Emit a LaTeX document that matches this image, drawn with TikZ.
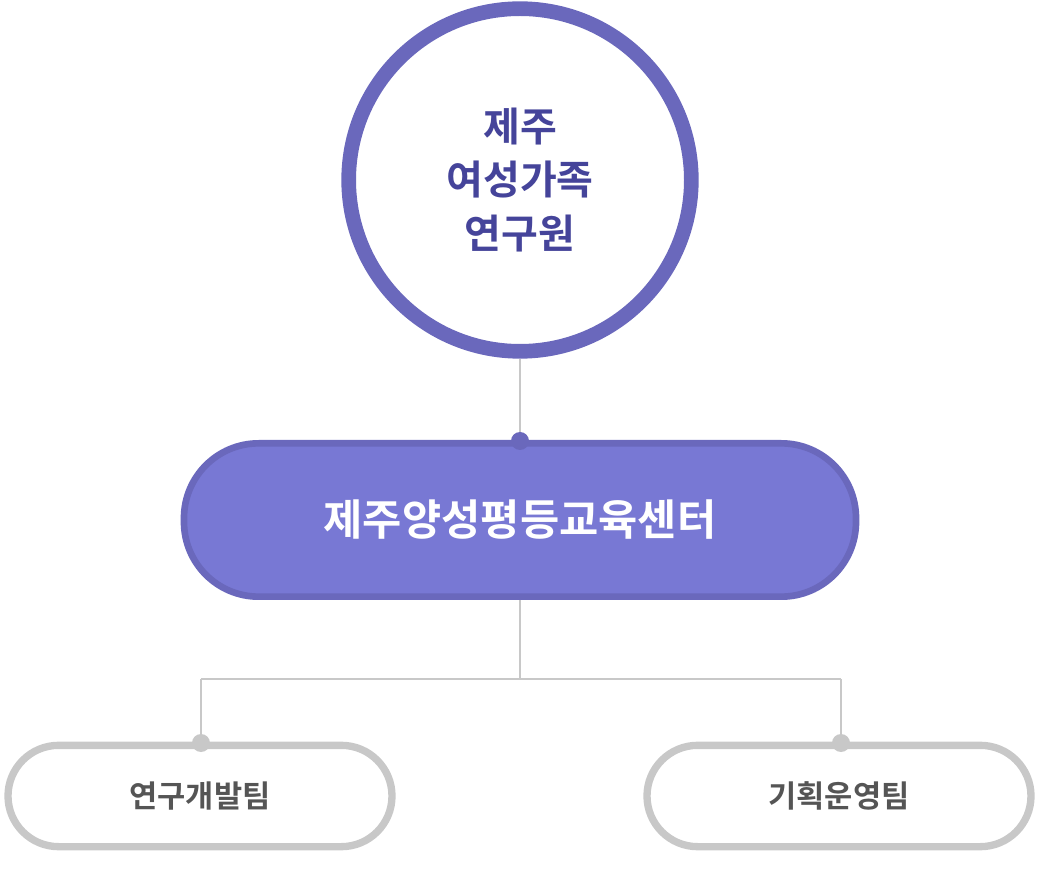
\documentclass[tikz,border=0pt]{standalone}
\usepackage{fontspec}
\newfontfamily\kr{Noto Sans CJK KR}
\newfontfamily\krb{Noto Sans CJK KR Bold}
\definecolor{pur}{HTML}{6A68BC}
\definecolor{purfill}{HTML}{7878D4}
\definecolor{purtext}{HTML}{45449A}
\definecolor{gr}{HTML}{C8C8C8}
\definecolor{grtext}{HTML}{555555}
\tikzset{
 conn/.style={draw=gr,line width=1pt},
 pdot/.style={circle,fill=pur,inner sep=0,minimum size=13.5pt},
 gdot/.style={circle,fill=gr,inner sep=0,minimum size=13.5pt},
 team/.style={draw=gr,line width=5.5pt,rounded corners=38pt,fill=white,minimum width=288pt,minimum height=76pt,text=grtext,font=\krb\fontsize{23}{27}\selectfont}
}
\begin{document}
\begin{tikzpicture}[x=0.75pt,y=-0.75pt]
\useasboundingbox (0,0) rectangle (1040,880);
\node[circle,draw=pur,line width=11pt,fill=white,minimum size=257pt,align=center,text=purtext,font=\krb\fontsize{30}{40}\selectfont] (top) at (520,180) {제주\\여성가족\\연구원};
\node[draw=pur,line width=5pt,fill=purfill,rounded corners=56pt,minimum width=504pt,minimum height=115pt,text=white,font=\krb\fontsize{32}{38}\selectfont] (mid) at (520,520) {제주양성평등교육센터};
\node[team] (l) at (200,796) {연구개발팀};
\node[team] (r) at (839,796) {기획운영팀};
\coordinate (d0) at (520,441);
\coordinate (j) at (520,679);
\coordinate (jl) at (201,679);
\coordinate (jr) at (841,679);
\coordinate (dl) at (201,743);
\coordinate (dr) at (841,743);
\draw[conn] (top.south) -- (d0);
\draw[conn] (mid.south) -- (j);
\draw[conn] (jl) -- (jr);
\draw[conn] (jl) -- (dl);
\draw[conn] (jr) -- (dr);
\node[pdot] at (d0) {};
\node[gdot] at (dl) {};
\node[gdot] at (dr) {};
\end{tikzpicture}
\end{document}
